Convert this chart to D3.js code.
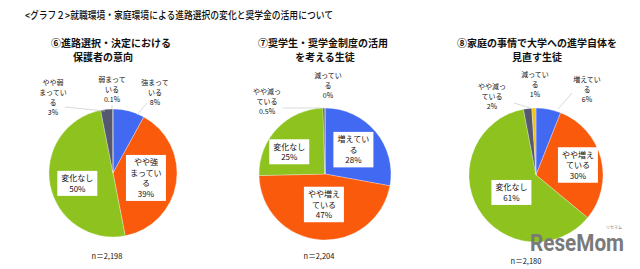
<!DOCTYPE html>
<html>
<head>
<meta charset="utf-8">
<script src="https://cdn.jsdelivr.net/npm/d3@7"></script>
<style>
  body { margin: 0; background: #fff; }
  text { font-family: "Noto Sans CJK JP", "Noto Sans", sans-serif; fill: #111; }
</style>
</head>
<body>
<svg id="chart" width="640" height="269"></svg>
<script>
const chartTitle = "<グラフ２>就職環境・家庭環境による進路選択の変化と奨学金の活用について";

const subtitles1 = ["⑥進路選択・決定における", "保護者の意向"];
const subtitles2 = ["⑦奨学生・奨学金制度の活用", "を考える生徒"];
const subtitles3 = ["⑧家庭の事情で大学への進学自体を", "見直す生徒"];

const categories1 = ["強まっている", "やや強まっている", "変化なし", "やや弱まっている", "弱まっている"];
const categories2 = ["増えている", "やや増えている", "変化なし", "やや減っている", "減っている"];
const categories3 = ["増えている", "やや増えている", "変化なし", "やや減っている", "減っている"];

const values1 = [8, 39, 50, 3, 0.1];
const values2 = [28, 47, 25, 0.5, 0];
const values3 = [6, 30, 61, 2, 1];

// label text as it is broken in the original
const labelLines1 = [["強まって", "いる"], ["やや強", "まってい", "る"], ["変化なし"], ["やや弱", "まってい", "る"], ["弱まって", "いる"]];
const labelLines2 = [["増えてい", "る"], ["やや増え", "ている"], ["変化なし"], ["やや減っ", "ている"], ["減ってい", "る"]];
const labelLines3 = [["増えてい", "る"], ["やや増え", "ている"], ["変化なし"], ["やや減っ", "ている"], ["減ってい", "る"]];

const percentLabels1 = ["8%", "39%", "50%", "3%", "0.1%"];
const percentLabels2 = ["28%", "47%", "25%", "0.5%", "0%"];
const percentLabels3 = ["6%", "30%", "61%", "2%", "1%"];

const sampleSizes = ["n＝2,198", "n＝2,204", "n＝2,180"];

const colors1 = ["#4169f2", "#fa5a0c", "#8dc21f", "#55586e", "#23284a"];
const colors3 = ["#4169f2", "#fa5a0c", "#8dc21f", "#55586e", "#f0c21a"];

const svg = d3.select("#chart");

svg.append("text")
    .attr("x", 25)
    .attr("y", 19)
    .attr("textLength", 308)
    .attr("lengthAdjust", "spacingAndGlyphs")
    .style("font-size", "10.5px")
    .style("font-weight", "500")
    .text(chartTitle);

// layout for each pie: center, radius, where the outside labels sit (relative to center)
const pies = [
    {
        cx: 113, cy: 173, r: 64,
        values: values1, cats: categories1, lines: labelLines1, pcts: percentLabels1, colors: colors1,
        subtitles: subtitles1, subDx: [-2, -10], n: sampleSizes[0], nDx: -6, nY: 259,
        inside: { 1: [-5, -1], 2: [2, 3] },
        outside: { 0: [42, -88], 3: [-60, -88], 4: [-1, -91] },
        leaders: { 0: [[34, -70], [24, -58]], 3: [[-48, -66], [-8, -62]], 4: [[-1, -68], [-1, -64]] }
    },
    {
        cx: 325, cy: 174, r: 66,
        values: values2, cats: categories2, lines: labelLines2, pcts: percentLabels2, colors: colors1,
        subtitles: subtitles2, subDx: [-2, 0], n: sampleSizes[1], nDx: -6, nY: 259,
        inside: { 0: [-2, 1], 1: [2, -9], 2: [-7, 5] },
        outside: { 3: [-58, -80], 4: [3, -96] },
        leaders: { 3: [[-42, -66], [-1, -66]] }
    },
    {
        cx: 536, cy: 175, r: 67,
        values: values3, cats: categories3, lines: labelLines3, pcts: percentLabels3, colors: colors3,
        subtitles: subtitles3, subDx: [1, 1], n: sampleSizes[2], nDx: -10, nY: 264,
        inside: { 1: [3, 0], 2: [10, -3] },
        outside: { 0: [51, -93], 3: [-44, -86], 4: [-1, -98] },
        leaders: { 0: [[36, -82], [22, -66]], 3: [[-22, -72], [-6, -67]] }
    }
];

const pie = d3.pie().sort(null).value(d => d);

pies.forEach(p => {
    const g = svg.append("g").attr("transform", `translate(${p.cx},${p.cy})`);
    const arc = d3.arc().innerRadius(0).outerRadius(p.r);
    const labelArc = d3.arc().innerRadius(p.r * 0.6).outerRadius(p.r * 0.6);
    const slices = pie(p.values);

    g.selectAll("path.slice")
        .data(slices)
        .enter()
        .append("path")
        .attr("class", "slice")
        .attr("d", arc)
        .attr("fill", (d, i) => p.colors[i])
        .attr("stroke", "#fff")
        .attr("stroke-width", 0.3);

    // subtitles above the pie
    p.subtitles.forEach((s, k) => {
        svg.append("text")
            .attr("x", p.cx + p.subDx[k])
            .attr("y", 47 + k * 14)
            .attr("text-anchor", "middle")
            .style("font-size", "10px")
            .style("font-weight", "bold")
            .text(s);
    });

    // leader lines
    Object.entries(p.leaders).forEach(([i, pts]) => {
        g.append("line")
            .attr("x1", pts[0][0]).attr("y1", pts[0][1])
            .attr("x2", pts[1][0]).attr("y2", pts[1][1])
            .attr("stroke", "#c8c8c8")
            .attr("stroke-width", 0.7);
    });

    slices.forEach((d, i) => {
        const lines = p.lines[i].concat([p.pcts[i]]);
        if (p.outside[i]) {
            const [ox, oy] = p.outside[i];
            const lh = 10;
            lines.forEach((t, k) => {
                g.append("text")
                    .attr("x", ox)
                    .attr("y", oy + k * lh)
                    .attr("text-anchor", "middle")
                    .style("font-size", "7px")
                    .text(t);
            });
        } else {
            const c = labelArc.centroid(d);
            const nudge = p.inside[i] || [0, 0];
            const x = c[0] + nudge[0];
            const lh = 10.5;
            const fs = 8;
            const widest = d3.max(lines, t => t.length * (t.includes("%") ? 5 : 8));
            const boxW = widest + 8;
            const boxH = lines.length * lh + 4;
            const top = c[1] + nudge[1] - boxH / 2;
            g.append("rect")
                .attr("x", x - boxW / 2)
                .attr("y", top)
                .attr("width", boxW)
                .attr("height", boxH)
                .attr("fill", "#fff");
            lines.forEach((t, k) => {
                g.append("text")
                    .attr("x", x)
                    .attr("y", top + 2 + (k + 1) * lh - 2)
                    .attr("text-anchor", "middle")
                    .style("font-size", fs + "px")
                    .text(t);
            });
        }
    });

    svg.append("text")
        .attr("x", p.cx + p.nDx)
        .attr("y", p.nY)
        .attr("text-anchor", "middle")
        .style("font-size", "7.5px")
        .text(p.n);
});

// watermark
svg.append("text")
    .attr("x", 530)
    .attr("y", 251)
    .attr("textLength", 94)
    .attr("lengthAdjust", "spacingAndGlyphs")
    .style("font-family", "Roboto, sans-serif")
    .style("font-size", "23px")
    .style("font-weight", "bold")
    .style("fill", "#7a7a7a")
    .text("ReseMom");

svg.append("text")
    .attr("x", 614)
    .attr("y", 229)
    .attr("text-anchor", "middle")
    .style("font-size", "4px")
    .style("fill", "#7a7a7a")
    .text("リセマム");
</script>
</body>
</html>
